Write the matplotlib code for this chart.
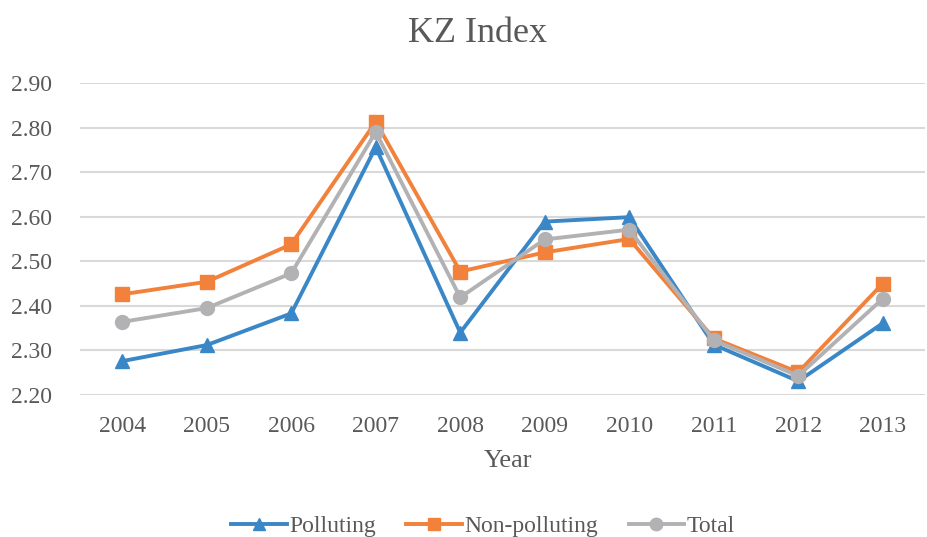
import matplotlib
matplotlib.use("Agg")
import matplotlib.pyplot as plt

years = ["2004", "2005", "2006", "2007", "2008", "2009", "2010", "2011", "2012", "2013"]
polluting = [2.276, 2.312, 2.383, 2.756, 2.340, 2.589, 2.599, 2.313, 2.231, 2.361]
non_polluting = [2.426, 2.454, 2.538, 2.813, 2.477, 2.520, 2.550, 2.327, 2.251, 2.450]
total = [2.364, 2.395, 2.473, 2.790, 2.419, 2.549, 2.571, 2.323, 2.243, 2.416]
yticks = [2.20, 2.30, 2.40, 2.50, 2.60, 2.70, 2.80, 2.90]

plt.rcParams['font.family'] = ['Liberation Serif', 'DejaVu Serif']
txt = '#595959'
c_blue, c_orange, c_gray = '#3a87c8', '#f2813b', '#b2b2b4'

W, H = 927, 537
fig = plt.figure(figsize=(W/100, H/100), dpi=100)
ax = fig.add_axes([80/W, 1-395/H, 845/W, (395-83)/H])
x = list(range(len(years)))
ax.plot(x, polluting, color=c_blue, lw=2.8, marker='^', ms=10, label='Polluting', zorder=3)
ax.plot(x, non_polluting, color=c_orange, lw=2.8, marker='s', ms=9.5, label='Non-polluting', zorder=3)
ax.plot(x, total, color=c_gray, lw=2.8, marker='o', ms=10, label='Total', zorder=3)

ax.set_xlim(-0.5, len(years)-0.5)
ax.set_ylim(2.2, 2.9)
ax.set_yticks(yticks)
ax.set_yticklabels([f"{v:.2f}" for v in yticks])
ax.set_xticks(x)
ax.set_xticklabels(years)
for s in ax.spines.values():
    s.set_visible(False)
ax.grid(axis='y', color='#d9d9d9', lw=1.5)
ax.set_axisbelow(True)
ax.tick_params(length=0, labelsize=17, labelcolor=txt)
ax.tick_params(axis='x', pad=15)
ax.tick_params(axis='y', pad=20)
ax.set_xlabel('Year', fontsize=19, color=txt, va='baseline')
ax.xaxis.set_label_coords(508/W, 1-467/H, transform=fig.transFigure)
fig.text(478/W, 1-42/H, 'KZ Index', ha='center', va='baseline', fontsize=26, color=txt)

handles, labels = ax.get_legend_handles_labels()
fig.legend(handles, labels, loc='center', bbox_to_anchor=(483/W, 1-526/H), ncol=3,
           frameon=False, fontsize=17, labelcolor=txt, handlelength=2.35,
           columnspacing=1.3, handletextpad=0.1, markerscale=0.9)
fig.savefig('out.png', dpi=100)
